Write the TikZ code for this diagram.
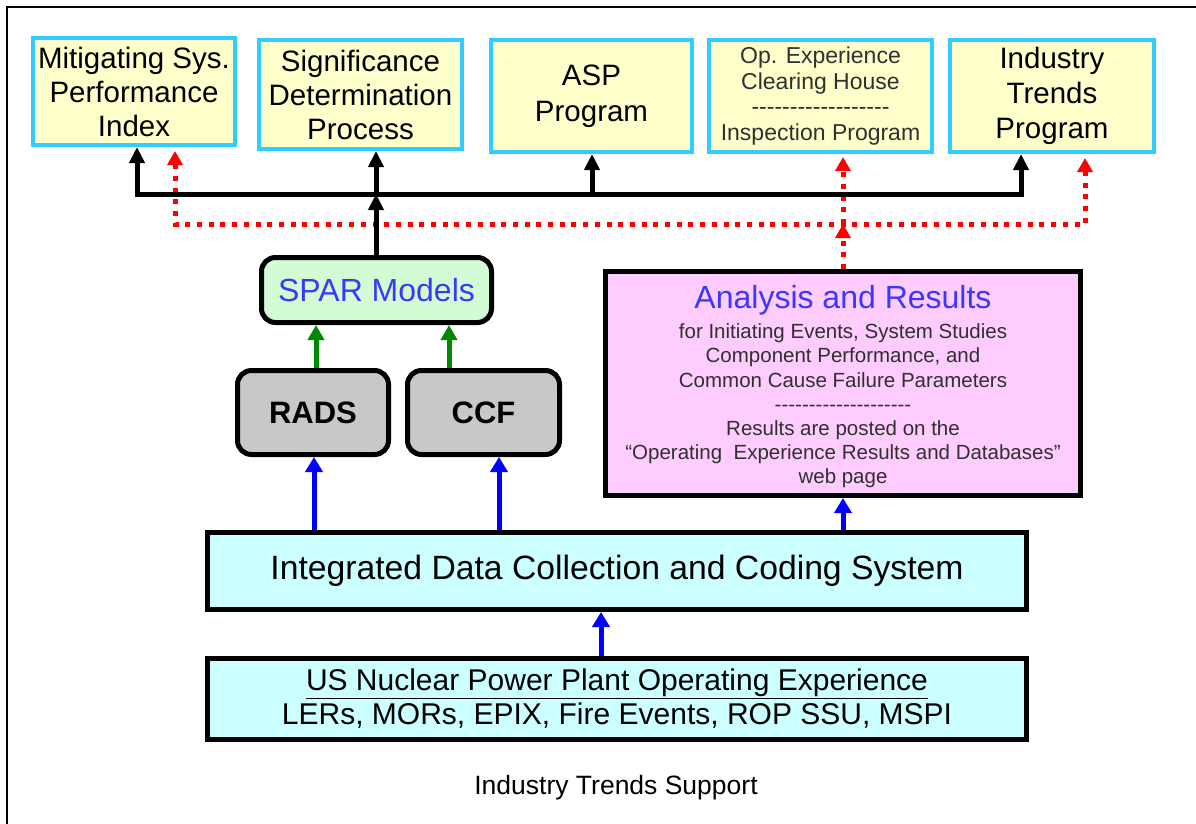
\documentclass[tikz,border=0pt]{standalone}
\usepackage{fontspec}
\setmainfont{Liberation Sans}
\usetikzlibrary{arrows.meta}
\newcommand\myfs[2]{\fontsize{#1}{#2}\selectfont}
\definecolor{cyanb}{HTML}{33CCFF}
\definecolor{yellowf}{HTML}{FFFFCC}
\definecolor{greenf}{HTML}{D4FCD4}
\definecolor{grayf}{HTML}{C8C8C8}
\definecolor{pinkf}{HTML}{FFCCFF}
\definecolor{aquaf}{HTML}{CCFFFF}
\definecolor{titleblue}{HTML}{3838FF}
\definecolor{arrgreen}{HTML}{008800}
\definecolor{arrblue}{HTML}{0000FF}
\definecolor{dotred}{HTML}{FF0000}
\definecolor{grtext}{HTML}{303030}
\begin{document}
\begin{tikzpicture}[x=1pt,y=-1pt,
  topbox/.style={draw=cyanb,line width=4pt,fill=yellowf,align=center,inner sep=0pt,font=\myfs{29.5}{34}},
  rbox/.style={draw=black,line width=5pt,rounded corners=14pt,inner sep=0pt},
  sqbox/.style={draw=black,line width=5pt,inner sep=0pt},
  blk/.style={draw=black,line width=5pt,>={Triangle[length=16pt,width=15pt]}},
  grn/.style={draw=arrgreen,line width=5pt,>={Triangle[length=15pt,width=16pt]}},
  blu/.style={draw=arrblue,line width=5pt,>={Triangle[length=15pt,width=17pt]}},
  reddot/.style={draw=dotred,line width=5pt,dash pattern=on 5pt off 6.7pt,>={Triangle[length=14pt,width=15pt]}}
]
\useasboundingbox (0,0) rectangle (1196,824);
\fill[white] (0,0) rectangle (1196,824);
\draw[line width=2pt] (7,824) -- (7,7) -- (1196,7);

% top boxes
\node[topbox,minimum width=202,minimum height=107] (msp) at (134,91.5) {Mitigating Sys.\\Performance\\Index};
\node[topbox,minimum width=203,minimum height=109] (sdp) at (360.5,94.5) {Significance\\Determination\\Process};
\node[topbox,minimum width=201,minimum height=112,font=\myfs{29.5}{36}] (asp) at (591.5,96) {ASP\\Program};
\node[topbox,minimum width=223,minimum height=112,font=\myfs{23}{25.7},text=grtext] (oec) at (820.5,96) {Op. Experience\\Clearing House\\-{}-{}-{}-{}-{}-{}-{}-{}-{}-{}-{}-{}-{}-{}-{}-{}-{}-{}\\Inspection Program};
\node[topbox,minimum width=204,minimum height=112,font=\myfs{29.5}{35}] (itp) at (1052,96) {Industry\\Trends\\Program};

% middle boxes
\node[rbox,fill=greenf,minimum width=230,minimum height=65,font=\myfs{32}{36},text=titleblue] (spar) at (376.5,290) {SPAR Models};
\node[rbox,fill=grayf,minimum width=151,minimum height=84,font=\myfs{31}{36}\bfseries] (rads) at (313,412.5) {RADS};
\node[rbox,fill=grayf,minimum width=152,minimum height=84,font=\myfs{31}{36}\bfseries] (ccf) at (483.5,412.5) {CCF};
\node[sqbox,fill=pinkf,minimum width=475,minimum height=224] (ana) at (843,383.5) {};
\node[font=\myfs{32}{36},text=titleblue,inner sep=0pt] (anat) at (843,300) {Analysis and Results};
\node[font=\myfs{20.5}{24.2},text=grtext,align=center,inner sep=0pt] (anab) at (843,406) {for Initiating Events, System Studies\\Component Performance, and\\Common Cause Failure Parameters\\-{}-{}-{}-{}-{}-{}-{}-{}-{}-{}-{}-{}-{}-{}-{}-{}-{}-{}-{}-{}\\Results are posted on the\\``Operating\ \ Experience Results and Databases''\\web page};

% bottom boxes
\node[sqbox,fill=aquaf,minimum width=819,minimum height=77,font=\myfs{33.7}{38}] (idc) at (617,571) {\raisebox{-3pt}{Integrated Data Collection and Coding System}};
\node[sqbox,fill=aquaf,minimum width=819,minimum height=81,font=\myfs{30}{34},align=center] (uspp) at (617,699) {\underline{US Nuclear Power Plant Operating Experience}\\LERs, MORs, EPIX, Fire Events, ROP SSU, MSPI};
\node[font=\myfs{26.5}{30},inner sep=0pt] (cap) at (616,788) {Industry Trends Support};

% helper coordinates
\coordinate (bL) at (137,194);
\coordinate (bR) at (1021,194);
\coordinate (bS) at (376,194);
\coordinate (bA) at (592,194);
\coordinate (rL) at (175,224);
\coordinate (rR) at (1085,224);
\coordinate (rJ) at (843,224);
\coordinate (xg1) at (316,0);
\coordinate (xg2) at (449,0);
\coordinate (xb1) at (314,0);
\coordinate (xb2) at (499,0);
\coordinate (xb3) at (843,0);
\coordinate (xb4) at (601,0);

% red dotted connectors
\draw[reddot,<->,shorten <=4pt,shorten >=4pt] (msp.south -| rL) -- (rL) -- (rR) -- (itp.south -| rR);
\draw[reddot,->] (ana.north -| rJ) -- (rJ);
\draw[reddot,->,shorten >=3pt] (rJ) -- (oec.south -| rJ);

% black connectors
\draw[blk,<->] (msp.south -| bL) -- (bL) -- (bR) -- (itp.south -| bR);
\draw[blk,->] (bA) -- (asp.south -| bA);
\draw[blk,->] (spar.north -| bS) -- (bS);
\draw[blk,->] (bS) -- (sdp.south -| bS);

% green connectors
\draw[grn,->] (rads.north -| xg1) -- (spar.south -| xg1);
\draw[grn,->] (ccf.north -| xg2) -- (spar.south -| xg2);

% blue connectors
\draw[blu,->] (idc.north -| xb1) -- (rads.south -| xb1);
\draw[blu,->] (idc.north -| xb2) -- (ccf.south -| xb2);
\draw[blu,->] (idc.north -| xb3) -- (ana.south -| xb3);
\draw[blu,->] (uspp.north -| xb4) -- (idc.south -| xb4);
\end{tikzpicture}
\end{document}
